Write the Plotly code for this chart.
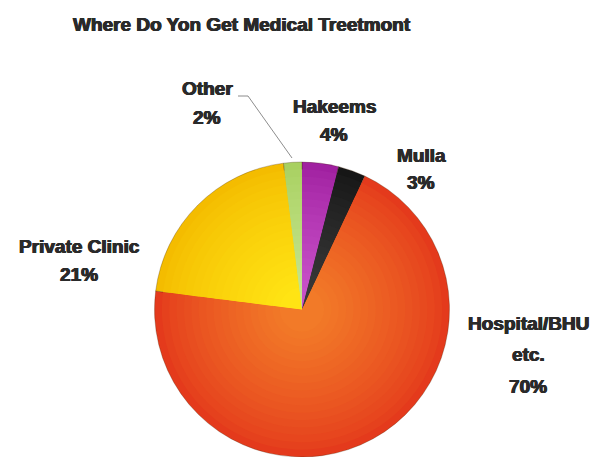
import plotly.graph_objects as go

# Survey answers, in clockwise order from 12 o'clock
labels = ["Hakeems", "Mulla", "Hospital/BHU<br>etc.", "Private Clinic", "Other"]
values = [4, 3, 70, 21, 2]

# Slice colours: rim tone and brighter core tone for the radial shading
rim_colors = ["#A020A0", "#161616", "#E43A1C", "#F4BC00", "#A8D060"]
core_colors = ["#C850C8", "#383838", "#F27A28", "#FFE414", "#C4E48C"]

W, H = 596, 457
cx, cy_top, R = 302, 309.5, 147.5  # pie centre (px from left/top) and radius

FONT = "Liberation Sans, Arial, sans-serif"
INK = "#2A2A2A"
HEAVY = f"0.6px 0 0 {INK}, -0.6px 0 0 {INK}, 0 0.4px 0 {INK}"


def blend(c1, c2, t):
    a = [int(c1[i:i + 2], 16) for i in (1, 3, 5)]
    b = [int(c2[i:i + 2], 16) for i in (1, 3, 5)]
    return "#" + "".join(f"{round(x + (y - x) * t):02X}" for x, y in zip(a, b))


fig = go.Figure()

# Concentric layers of the same pie give a soft glow toward the centre
steps = 18
for k in range(steps):
    f = 1 - k / steps * 0.9
    r = R * f
    t = (k / (steps - 1)) ** 0.8
    cols = [blend(a, b, t) for a, b in zip(rim_colors, core_colors)]
    fig.add_trace(go.Pie(
        labels=labels,
        values=values,
        sort=False,
        direction="clockwise",
        rotation=0,
        textinfo="none",
        hoverinfo="label+percent",
        showlegend=False,
        marker=dict(colors=cols,
                    line=dict(color="rgba(60,30,0,0.45)" if k == 0 else "rgba(0,0,0,0)",
                              width=0.6 if k == 0 else 0)),
        domain=dict(x=[(cx - r) / W, (cx + r) / W],
                    y=[(H - cy_top - r) / H, (H - cy_top + r) / H]),
    ))

# Label blocks: (x centre, y of first line) in pixels
label_pos = {
    "Hakeems": (334, 106),
    "Mulla": (421, 155),
    "Hospital/BHU<br>etc.": (528, 323),
    "Private Clinic": (79, 246),
    "Other": (207, 89),
}
line_gap = {"Hospital/BHU<br>etc.": 31.5}

annotations = []
for lab, val in zip(labels, values):
    x, y = label_pos[lab]
    lines = lab.split("<br>") + [f"{val}%"]
    gap = line_gap.get(lab, 28)
    for i, ln in enumerate(lines):
        annotations.append(dict(
            text=ln, x=x / W, y=1 - (y + i * gap) / H, xref="paper", yref="paper",
            xanchor="center", yanchor="middle", showarrow=False,
            font=dict(family=FONT, size=19, color=INK, weight="bold", shadow=HEAVY),
        ))

# Title
annotations.append(dict(
    text="Where Do Yon Get Medical Treetmont",
    x=242 / W, y=1 - 25 / H, xref="paper", yref="paper",
    xanchor="center", yanchor="middle", showarrow=False,
    font=dict(family=FONT, size=19, color=INK, weight="bold", shadow=HEAVY),
))

# Leader line from the "Other" label to its slice
leader_x = [238, 248, 292]
leader_y = [96, 96, 158]
shapes = [dict(type="path",
               path=f"M {leader_x[0] / W},{1 - leader_y[0] / H} "
                    f"L {leader_x[1] / W},{1 - leader_y[1] / H} "
                    f"L {leader_x[2] / W},{1 - leader_y[2] / H}",
               xref="paper", yref="paper",
               line=dict(color="#707070", width=0.8))]

fig.update_layout(
    width=W, height=H,
    margin=dict(l=0, r=0, t=0, b=0),
    paper_bgcolor="white", plot_bgcolor="white",
    annotations=annotations,
    shapes=shapes,
)

fig.write_html("out.html")
